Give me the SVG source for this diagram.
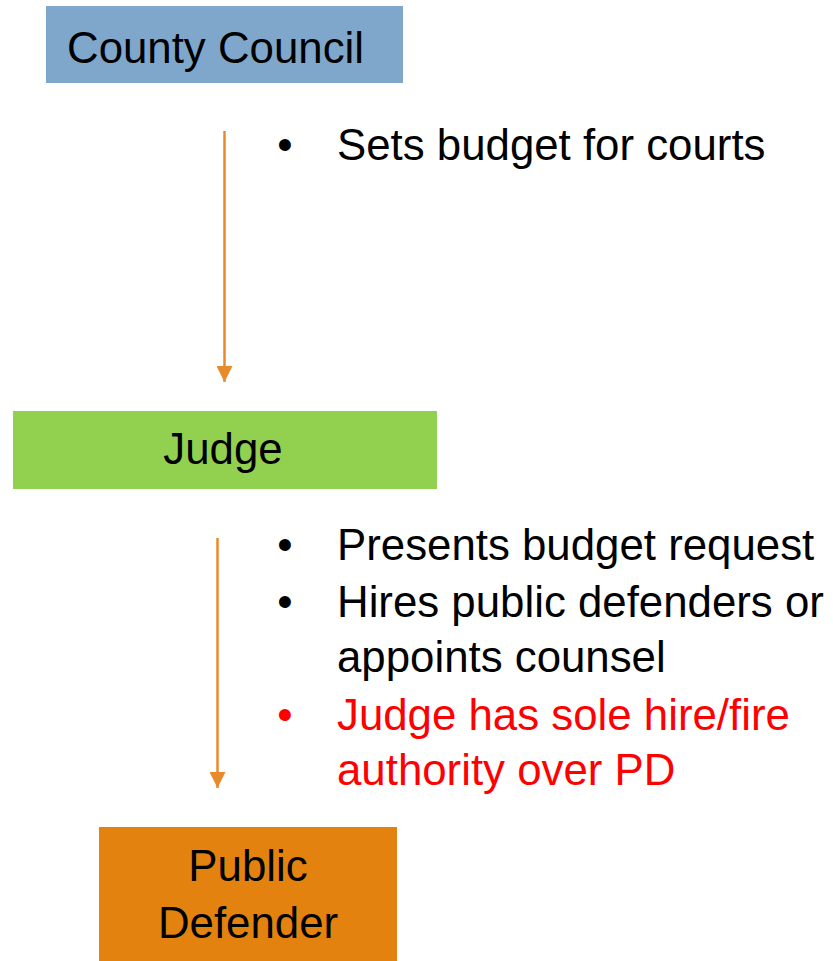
<svg xmlns="http://www.w3.org/2000/svg" width="833" height="961" viewBox="0 0 833 961">
<style>
text{font-family:"Liberation Sans",Arial,sans-serif;font-size:43.8px;fill:#000}
.red{fill:#FF0000}
.line{stroke:#E8892B;stroke-width:2.5;fill:none}
.mid{text-anchor:middle}
</style>
<defs>
<marker id="ah" viewBox="0 0 16 16" refX="16" refY="8" markerWidth="16" markerHeight="16" markerUnits="userSpaceOnUse" orient="auto">
<path d="M0,0 L16,8 L0,16 Z" fill="#E8892B"/>
</marker>
</defs>
<rect width="833" height="961" fill="#fff"/>
<g id="county-council">
<rect x="46" y="6" width="357" height="77" fill="#7EA7CB"/>
<text x="67" y="63">County Council</text>
</g>
<g id="judge">
<rect x="13" y="411" width="424" height="78" fill="#92D050"/>
<text x="223" y="464" class="mid">Judge</text>
</g>
<g id="public-defender">
<rect x="99" y="827" width="298" height="134" fill="#E4820F"/>
<text x="248" y="881" class="mid">Public</text>
<text x="248" y="938" class="mid">Defender</text>
</g>
<g id="connectors">
<line class="line" x1="224.5" y1="131" x2="224.5" y2="382" marker-end="url(#ah)"/>
<line class="line" x1="217.5" y1="538" x2="217.5" y2="788" marker-end="url(#ah)"/>
</g>
<g id="labels">
<text x="285" y="160" class="mid">•</text>
<text x="337" y="160">Sets budget for courts</text>
<text x="285" y="560" class="mid">•</text>
<text x="337" y="560">Presents budget request</text>
<text x="285" y="617" class="mid">•</text>
<text x="337" y="617">Hires public defenders or</text>
<text x="337" y="672">appoints counsel</text>
<text x="285" y="730" class="mid red">•</text>
<text x="337" y="730" class="red">Judge has sole hire/fire</text>
<text x="337" y="785" class="red">authority over PD</text>
</g>
</svg>
